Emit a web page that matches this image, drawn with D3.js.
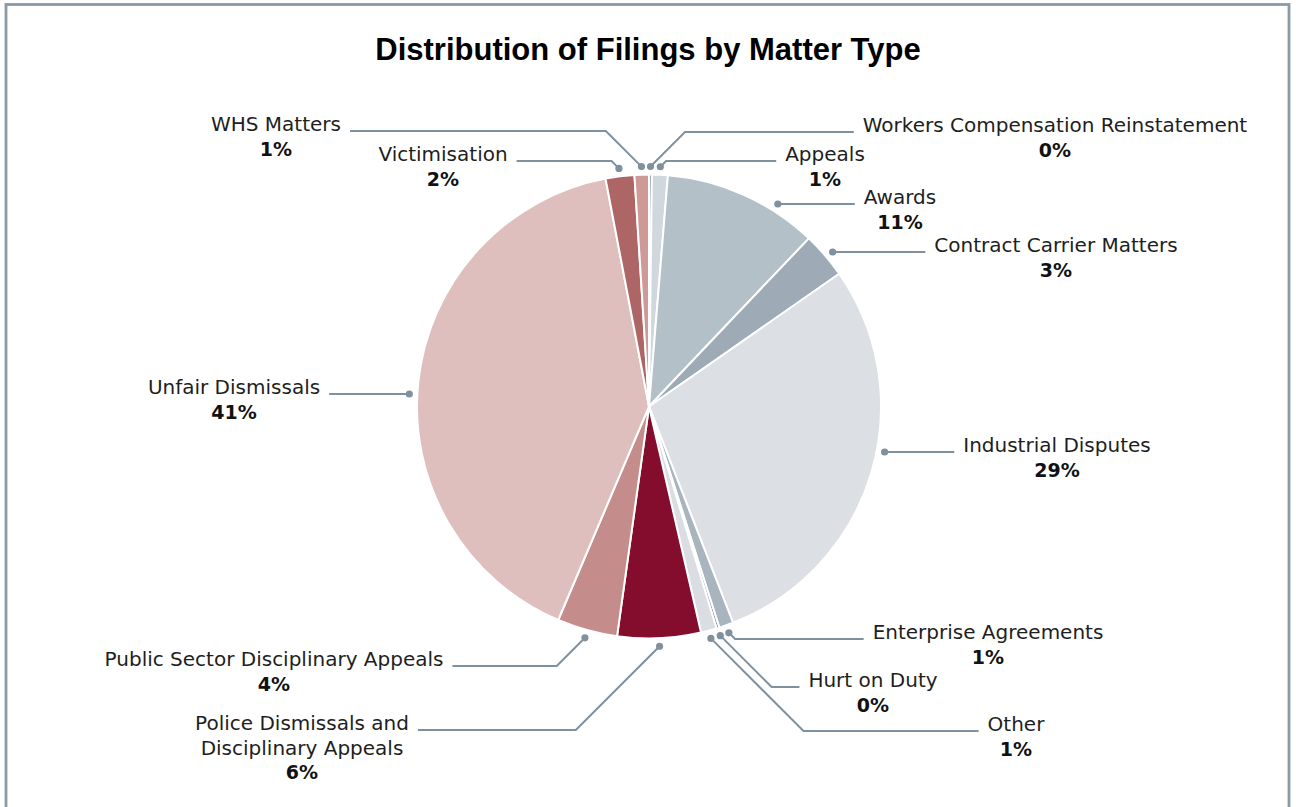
<!DOCTYPE html>
<html>
<head>
<meta charset="utf-8">
<script src="https://cdn.jsdelivr.net/npm/d3@7"></script>
<style>
  html, body { margin: 0; padding: 0; background: #ffffff; }
  svg { display: block; }
</style>
</head>
<body>
<svg id="chart" width="1296" height="807"></svg>
<script>
// Matter types, clockwise from 12 o'clock
const categories = [
  "Workers Compensation Reinstatement",
  "Appeals",
  "Awards",
  "Contract Carrier Matters",
  "Industrial Disputes",
  "Enterprise Agreements",
  "Hurt on Duty",
  "Other",
  "Police Dismissals and Disciplinary Appeals",
  "Public Sector Disciplinary Appeals",
  "Unfair Dismissals",
  "Victimisation",
  "WHS Matters"
];

// Share of all filings (%)
const shares = [0.2, 1.1, 10.8, 3.2, 28.8, 1.0, 0.2, 1.1, 5.8, 4.2, 40.6, 2.0, 1.0];

const sliceColors = [
  "#7e909c", "#d0d7dd", "#b4c0c8", "#9eabb6", "#dcdfe3", "#a8b5be", "#7e909c",
  "#dadee2", "#840d2e", "#c48d8b", "#dfbfbd", "#ad6566", "#cd9a98"
];

// Label placement: centre x of the text block, baseline of the name (also leader height), side
const labelLayout = [
  { cx: 1055, y: 132, side: "right" },
  { cx: 825,  y: 161, side: "right" },
  { cx: 900,  y: 204, side: "right" },
  { cx: 1056, y: 252, side: "right" },
  { cx: 1057, y: 452, side: "right" },
  { cx: 988,  y: 639, side: "right" },
  { cx: 873,  y: 687, side: "right" },
  { cx: 1016, y: 731, side: "right" },
  { cx: 302,  y: 730, side: "left", lines: ["Police Dismissals and", "Disciplinary Appeals"] },
  { cx: 274,  y: 666, side: "left" },
  { cx: 234,  y: 394, side: "left" },
  { cx: 443,  y: 161, side: "left" },
  { cx: 276,  y: 131, side: "left" }
];

const cx = 649, cy = 406.5;
const R = 232;          // pie radius
const RD = 240;         // radius of the leader dots
const lineColor = "#7f919e";
const labelFont = "'DejaVu Sans', sans-serif";

const svg = d3.select("#chart");

// outer frame
svg.append("rect")
  .attr("x", 6).attr("y", 4.5)
  .attr("width", 1283).attr("height", 900)
  .attr("fill", "none")
  .attr("stroke", "#8a9aa7")
  .attr("stroke-width", 2.8);

// title
svg.append("text")
  .attr("x", 648).attr("y", 60)
  .attr("text-anchor", "middle")
  .attr("font-family", "'Liberation Sans', Arial, sans-serif")
  .attr("font-weight", "bold")
  .attr("font-size", 31)
  .attr("fill", "#000")
  .text("Distribution of Filings by Matter Type");

const total = d3.sum(shares);
const pie = d3.pie().sort(null).value(d => d);
const arcs = pie(shares);
const arc = d3.arc().innerRadius(0).outerRadius(R);

const gPie = svg.append("g").attr("transform", `translate(${cx},${cy})`);
gPie.selectAll("path")
  .data(arcs)
  .join("path")
  .attr("d", arc)
  .attr("fill", (d, i) => sliceColors[i])
  .attr("stroke", "#ffffff")
  .attr("stroke-width", 2)
  .attr("stroke-linejoin", "round");

const pct = d3.format(".0%");
const gLines = svg.append("g");
const gLabels = svg.append("g");

function pointAt(angle, r) {
  return [cx + r * Math.sin(angle), cy - r * Math.cos(angle)];
}

arcs.forEach((a, i) => {
  const L = labelLayout[i];
  const dir = L.side === "right" ? 1 : -1;
  const lines = L.lines || [categories[i]];

  // label text
  const g = gLabels.append("g");
  const nameText = g.append("text")
    .attr("text-anchor", "middle")
    .attr("font-family", labelFont)
    .attr("font-size", 20)
    .attr("fill", "#1e1e1e");
  lines.forEach((ln, k) => {
    nameText.append("tspan").attr("x", L.cx).attr("y", L.y + k * 24.5).text(ln);
  });
  g.append("text")
    .attr("x", L.cx)
    .attr("y", L.y + lines.length * 24.5)
    .attr("text-anchor", "middle")
    .attr("font-family", labelFont)
    .attr("font-weight", "bold")
    .attr("font-size", 19)
    .attr("fill", "#111")
    .text(pct(a.data / total));

  const bb = nameText.node().getBBox();
  const gap = 9;
  const endX = dir > 0 ? bb.x - gap : bb.x + bb.width + gap;

  // leader: straight across when its height meets the slice, else a 45° elbow from the slice middle
  let pts = null;
  const dy = L.y - cy;
  if (Math.abs(dy) < RD) {
    const px = cx + dir * Math.sqrt(RD * RD - dy * dy);
    let ang = Math.atan2(px - cx, -dy);
    if (ang < 0) ang += 2 * Math.PI;
    if (ang > a.startAngle && ang < a.endAngle) pts = [[px, L.y]];
  }
  if (!pts) {
    const mid = (a.startAngle + a.endAngle) / 2;
    const d = pointAt(mid, RD);
    pts = [d, [d[0] + dir * Math.abs(L.y - d[1]), L.y]];
  }
  pts.push([endX, L.y]);

  gLines.append("path")
    .attr("d", d3.line()(pts))
    .attr("fill", "none")
    .attr("stroke", lineColor)
    .attr("stroke-width", 2);
  gLines.append("circle")
    .attr("cx", pts[0][0]).attr("cy", pts[0][1])
    .attr("r", 3.6)
    .attr("fill", lineColor);
});
</script>
</body>
</html>
